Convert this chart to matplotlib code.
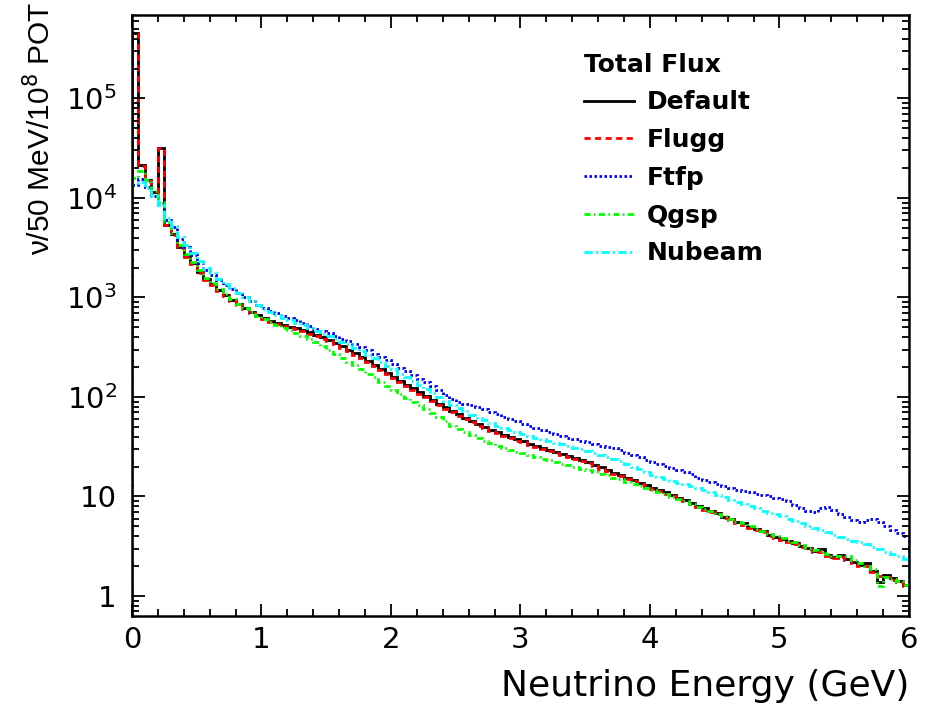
import matplotlib
matplotlib.use("Agg")
from matplotlib import pyplot as plt
from matplotlib.ticker import FixedLocator, MultipleLocator, NullFormatter
import numpy as np

plt.rcParams['font.family'] = ['DejaVu Sans']
plt.rcParams['mathtext.fontset'] = 'dejavusans'

# 50 MeV bins from 0 to 6 GeV
edges = np.linspace(0, 6, 121)

default = [450000, 21500, 15000, 11500, 32000, 5400, 4300, 3250, 2650, 2200,
           1820, 1540, 1360, 1190, 1060, 950, 860, 785, 720, 665,
           620, 585, 555, 530, 510, 490, 468, 445, 420, 398,
           372, 348, 322, 298, 275, 252, 230, 210, 192, 175,
           160, 146, 133, 122, 112, 102, 94, 86, 79, 72,
           67, 62, 57, 53, 50, 47, 44, 41.5, 39.5, 37.5,
           36, 34, 32.5, 31, 29.5, 28, 26.8, 25.5, 24.3, 23,
           22, 20.8, 19.6, 18.5, 17.4, 16.5, 15.5, 14.6, 13.8, 13.0,
           12.3, 11.6, 11.0, 10.3, 9.7, 9.3, 8.6, 8.1, 7.6, 7.2,
           6.8, 6.2, 6.0, 5.5, 5.4, 4.9, 4.7, 4.5, 4.1, 3.9,
           3.75, 3.6, 3.4, 3.2, 3.05, 2.85, 2.95, 2.6, 2.45, 2.6,
           2.35, 2.2, 2.05, 2.15, 1.8, 1.38, 1.62, 1.5, 1.4, 1.3]

flugg = [440000, 21000, 14800, 11300, 31500, 5300, 4200, 3150, 2580, 2150,
         1780, 1500, 1330, 1160, 1040, 925, 840, 765, 705, 650,
         605, 572, 543, 518, 498, 478, 456, 433, 410, 387,
         362, 338, 313, 290, 267, 245, 224, 204, 186, 170,
         155, 142, 129, 118, 108, 99, 91, 83.5, 76.5, 70,
         65, 60, 55.5, 51.5, 48.5, 45.5, 43, 40.5, 38.5, 36.5,
         35, 33, 31.5, 30.2, 28.7, 27.3, 26.2, 24.8, 23.7, 22.5,
         21.5, 20.3, 19.1, 18.1, 17.0, 16.0, 15.1, 14.3, 13.5, 12.7,
         12.0, 11.3, 10.7, 10.1, 9.5, 9.0, 8.4, 7.9, 7.4, 7.0,
         6.6, 6.1, 5.8, 5.4, 5.2, 4.8, 4.6, 4.35, 4.0, 3.8,
         3.65, 3.5, 3.3, 3.1, 2.95, 2.8, 2.8, 2.55, 2.4, 2.45,
         2.3, 2.15, 2.0, 2.0, 1.75, 1.6, 1.55, 1.45, 1.38, 1.27]

ftfp = [13500, 15500, 13000, 10500, 8800, 6000, 5100, 3900, 3230, 2680,
        2240, 1910, 1700, 1500, 1350, 1215, 1100, 1005, 920, 850,
        790, 737, 694, 657, 622, 588, 552, 521, 487, 462,
        435, 411, 386, 364, 341, 318, 294, 273, 253, 233,
        214, 197, 181, 167, 153, 140, 129, 117, 105, 95,
        90, 86, 83, 80, 76, 71, 67, 63, 60, 57,
        54, 51.5, 49, 46.5, 44, 42, 40.5, 39, 37.5, 36,
        35, 33.5, 32.5, 31.5, 30.5, 29, 27.5, 26, 24.8, 23.5,
        22.4, 21.3, 20.3, 19.4, 18.5, 17.7, 16.8, 15.5, 14.8, 14.0,
        13.3, 12.8, 12.2, 11.7, 11.4, 11.0, 10.7, 10.3, 10.0, 9.7,
        9.5, 9.1, 8.3, 7.7, 7.2, 7.0, 7.6, 7.9, 7.4, 6.7,
        6.2, 5.8, 5.5, 5.8, 5.9, 5.6, 5.1, 4.6, 4.3, 4.0]

qgsp = [16000, 18500, 15000, 11800, 9200, 5800, 4400, 3350, 2720, 2260,
        1870, 1580, 1390, 1210, 1075, 960, 865, 785, 715, 655,
        605, 565, 530, 497, 469, 441, 412, 383, 353, 322,
        294, 271, 248, 227, 208, 189, 172, 157, 142, 129,
        118, 108, 98, 90, 83, 75, 69, 62.5, 57, 51.5,
        48, 44.5, 41.5, 38.8, 36.5, 34.5, 32.5, 30.8, 29.5, 28.2,
        27.2, 26, 25, 24, 23.1, 22.2, 21.4, 20.6, 19.9, 19.1,
        18.5, 17.7, 17.0, 16.3, 15.5, 14.9, 14.1, 13.4, 12.8, 12.2,
        11.6, 11.0, 10.5, 9.9, 9.4, 9.0, 8.4, 7.9, 7.5, 7.1,
        6.7, 6.3, 6.0, 5.6, 5.4, 5.0, 4.75, 4.5, 4.2, 4.0,
        3.8, 3.6, 3.45, 3.25, 3.05, 2.9, 2.85, 2.65, 2.55, 2.55,
        2.5, 2.3, 2.15, 2.0, 1.85, 1.25, 1.55, 1.48, 1.4, 1.3]

nubeam = [14000, 14500, 12500, 10500, 8500, 6300, 5250, 4060, 3370, 2820,
          2350, 2000, 1770, 1550, 1380, 1235, 1110, 1005, 915, 838,
          770, 714, 666, 625, 592, 559, 524, 490, 458, 434,
          409, 386, 361, 337, 314, 290, 267, 246, 225, 207,
          189, 172, 157, 144, 132, 120, 110, 101, 92, 83.5,
          77.7, 71.9, 66, 62, 58.5, 55, 51.5, 48.6, 46.6, 44.3,
          42.8, 41, 39, 37.5, 36, 34.5, 33.5, 32, 31, 29.8,
          28.8, 27.5, 26.3, 25, 23.8, 22.5, 21.3, 20, 18.8, 17.6,
          16.5, 15.7, 15.0, 14.3, 13.7, 13.2, 12.7, 12.2, 11.7, 11.1,
          10.4, 9.8, 9.3, 8.8, 8.4, 8.0, 7.6, 7.2, 6.9, 6.6,
          6.3, 6.0, 5.7, 5.4, 5.1, 4.85, 4.6, 4.35, 4.1, 3.9,
          3.75, 3.6, 3.45, 3.3, 3.1, 2.95, 2.8, 2.65, 2.5, 2.38]

labels = ["Default", "Flugg", "Ftfp", "Qgsp", "Nubeam"]

fig = plt.figure(figsize=(9.25, 7.14), dpi=100)
ax = fig.add_axes([0.1427, 0.1373, 0.8400, 0.8417])

lw = 2.0
ax.stairs(default, edges, baseline=1e-3, color="black", linewidth=lw, linestyle='-', label=labels[0])
ax.stairs(flugg, edges, baseline=1e-3, color="red", linewidth=lw, linestyle=(0, (2.2, 1.6)), label=labels[1])
ax.stairs(ftfp, edges, baseline=1e-3, color="blue", linewidth=lw, linestyle=(0, (0.9, 0.9)), label=labels[2])
ax.stairs(qgsp, edges, baseline=1e-3, color="#00ff00", linewidth=lw, linestyle=(0, (2.2, 1.2, 0.6, 1.2)), label=labels[3])
ax.stairs(nubeam, edges, baseline=1e-3, color="cyan", linewidth=lw, linestyle=(0, (3.0, 1.2, 0.7, 1.2)), label=labels[4])

ax.set_yscale('log')
ax.set_xlim(0, 6)
ax.set_ylim(0.63, 6.9e5)

ax.xaxis.set_major_locator(MultipleLocator(1))
ax.xaxis.set_minor_locator(MultipleLocator(0.2))
ax.yaxis.set_major_locator(FixedLocator([1, 10, 100, 1e3, 1e4, 1e5]))
ax.set_yticklabels(["1", "10", "$10^{2}$", "$10^{3}$", "$10^{4}$", "$10^{5}$"])
minors = [m * 10**k for k in range(-1, 6) for m in range(2, 10)]
ax.yaxis.set_minor_locator(FixedLocator(minors))
ax.yaxis.set_minor_formatter(NullFormatter())

ax.tick_params(which='both', direction='in', top=True, right=True, width=1.3)
ax.tick_params(which='major', length=9)
ax.tick_params(which='minor', length=5)
ax.tick_params(axis='x', pad=7, labelsize=21)
ax.tick_params(axis='y', pad=11, labelsize=21)
for s in ax.spines.values():
    s.set_linewidth(1.8)

ax.set_xlabel("Neutrino Energy (GeV)", fontsize=26, loc='right', labelpad=11)
ax.set_ylabel("ν/50 MeV/10$^{8}$ POT", fontsize=21.5, family='Liberation Sans', loc='top')
ax.yaxis.set_label_coords(-0.097, 1.022)

leg = ax.legend(loc='upper left', bbox_to_anchor=(0.553, 0.975), frameon=False,
                title="Total Flux", prop={'weight': 'bold', 'size': 18},
                handlelength=2.0, labelspacing=0.55, handletextpad=0.5)
leg.get_title().set_fontweight('bold')
leg.get_title().set_fontsize(18)
leg._legend_box.align = "left"

fig.savefig("out.png", dpi=100)
